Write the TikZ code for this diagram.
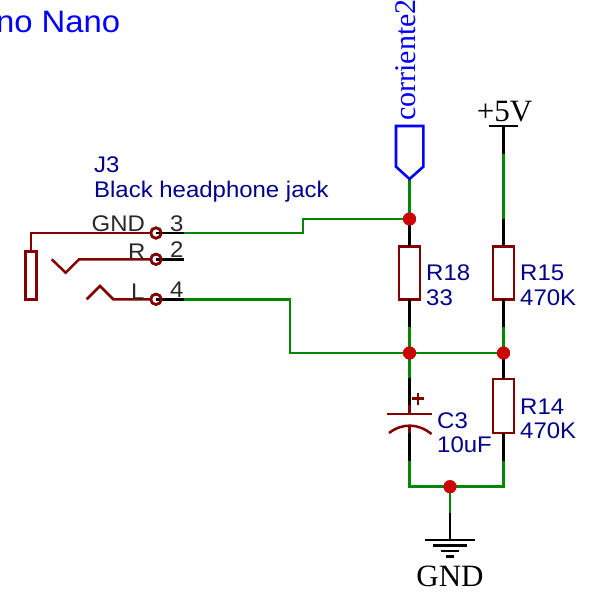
\documentclass[tikz,border=0pt]{standalone}
\usepackage{fontspec}
\setmainfont[FakeStretch=1.06]{Liberation Sans}
\newfontfamily\serifface{Liberation Serif}
\definecolor{wirecol}{RGB}{0,135,0}
\definecolor{symcol}{RGB}{132,0,0}
\definecolor{dotcol}{RGB}{204,0,0}
\definecolor{labcol}{RGB}{0,0,139}
\definecolor{netcol}{RGB}{0,0,255}
\definecolor{pincol}{RGB}{40,40,40}
\tikzset{
  wire/.style={draw=wirecol,line width=2.6pt,line cap=butt},
  lead/.style={draw=black,line width=2.5pt},
  sym/.style={draw=symcol,line width=2.5pt},
  resbox/.style={draw=symcol,line width=2.6pt,fill=white,minimum width=21pt,minimum height=53pt,inner sep=0pt,outer sep=0pt},
  junction/.style={circle,fill=dotcol,minimum size=13pt,inner sep=0pt,outer sep=0pt},
  pinring/.style={circle,draw=symcol,line width=2.5pt,fill=white,minimum size=10.5pt,inner sep=0pt,outer sep=0pt},
  valtxt/.style={text=labcol,anchor=base west,inner sep=0pt,font=\fontsize{22.6}{22.6}\selectfont},
  pintxt/.style={text=pincol,anchor=base west,inner sep=0pt,font=\fontsize{22.6}{22.6}\selectfont},
  sertxt/.style={text=black,inner sep=0pt,font=\fontsize{31}{31}\selectfont\serifface},
}
\begin{document}
\begin{tikzpicture}[x=1pt,y=-1pt]
\useasboundingbox (0,0) rectangle (593,597);
% junctions first, for naming
\node[junction] (d1) at (409.5,219) {};
\node[junction] (d2) at (409.5,353) {};
\node[junction] (d3) at (503.5,353) {};
\node[junction] (d4) at (450,486.7) {};
% named points
\coordinate (p3) at (184,233);
\coordinate (p2) at (184,259.3);
\coordinate (p4) at (184,299.3);
\coordinate (w3a) at (303,233);
\coordinate (w3b) at (303,219);
\coordinate (w4a) at (290,299.3);
\coordinate (w4b) at (290,353);
\coordinate (portTip) at (409.5,179);
\coordinate (r18b) at (409.5,327);
\coordinate (r15t) at (503.5,219);
\coordinate (r15b) at (503.5,327);
\coordinate (r14b) at (503.5,460.7);
\coordinate (c3t) at (409.5,378);
\coordinate (c3b) at (409.5,460.7);
\coordinate (vcc) at (503.5,154);
\coordinate (vccTop) at (503.5,126);
\coordinate (gndT) at (450,512.7);
\coordinate (gndB) at (450,540);
\coordinate (botL) at (409.5,486.7);
\coordinate (botR) at (503.5,486.7);
% wires
\draw[wire] (p3) -- (w3a) -- (w3b) -- (d1.center);
\draw[wire] (p4) -- (w4a) -- (w4b) -- (d2.center);
\draw[wire] (portTip) -- (d1.center);
\draw[wire] (r18b) -- (d2.center);
\draw[wire] (d2.center) -- (c3t);
\draw[wire] (d2.center) -- (d3.center);
\draw[wire] (vcc) -- (r15t);
\draw[wire] (r15b) -- (d3.center);
\draw[wire,line join=miter] (c3b) -- (botL) -- (botR) -- (r14b);
\draw[wire] (d4.center) -- (gndT);
% resistors
\node[resbox] (r18) at (409.5,272.8) {};
\node[resbox] (r15) at (503.5,272.8) {};
\node[resbox,minimum height=54pt] (r14) at (503.5,406) {};
\draw[lead] (d1.center) -- (r18.north);
\draw[lead] (r18.south) -- (r18b);
\draw[lead] (r15t) -- (r15.north);
\draw[lead] (r15.south) -- (r15b);
\draw[lead] (d3.center) -- (r14.north);
\draw[lead] (r14.south) -- (r14b);
% capacitor
\coordinate (capA) at (409.5,414);
\coordinate (capB) at (409.5,426);
\draw[lead] (c3t) -- (409.5,405);
\draw[sym] (409.5,405) -- (capA);
\draw[sym] (387,414) -- (432,414);
\draw[sym] (389,433) .. controls (402,423) and (418,423) .. (431.5,434);
\draw[sym] (capB) -- (409.5,433);
\draw[lead] (409.5,433) -- (c3b);
\draw[symcol,line width=2.5pt] (412,398.7) -- (424,398.7) (417.8,392.7) -- (417.8,404.7);
% +5V
\draw[lead] (vccTop) -- (vcc);
\draw[lead] (489,126) -- (518,126);
% ground
\draw[lead] (gndT) -- (gndB);
\draw[lead] (425,540) -- (475,540);
\draw[lead] (432.7,545.5) -- (467,545.5);
\draw[lead] (440.7,551) -- (459,551);
\draw[lead] (446,556.3) -- (453.5,556.3);
% port
\draw[draw=netcol,line width=2.6pt,line join=miter,fill=white] (396,126) -- (423.3,126) -- (423.3,166.7) -- (portTip) -- (396,166.7) -- cycle;
% jack
\node[pinring] (j3) at (156,233) {};
\node[pinring] (j2) at (156,259.3) {};
\node[pinring] (j4) at (156,299.3) {};
\draw[sym] (31,252) -- (31,233) -- (j3.west);
\draw[sym,fill=white] (25.5,251.5) rectangle (36.5,299.5);
\draw[sym] (51.7,259.3) -- (65.7,272.7) -- (79,259.3) -- (j2.west);
\draw[sym] (86.7,299.3) -- (100,286) -- (113.3,299.3) -- (j4.west);
\draw[lead] (j3.center) -- (p3);
\draw[lead] (j2.center) -- (p2);
\draw[lead] (j4.center) -- (p4);
\draw[sym] (j3) circle (5.25pt) (j2) circle (5.25pt) (j4) circle (5.25pt);
% junction dots on top
\node[junction] at (d1) {};
\node[junction] at (d2) {};
\node[junction] at (d3) {};
\node[junction] at (d4) {};
% texts
\node[text=netcol,anchor=base east,inner sep=0pt,font=\fontsize{31}{31}\selectfont] (title) at (120.5,32.5) {no Nano};
\node[valtxt] (tj3) at (94,172) {J3};
\node[valtxt] (tj3v) at (94,197.7) {Black headphone jack};
\node[pintxt] (tgnd) at (91.5,231) {GND};
\node[pintxt] (tr) at (128,259) {R};
\node[pintxt] (tl) at (131,299) {L};
\node[pintxt] (t3) at (170,231) {3};
\node[pintxt] (t2) at (170,257) {2};
\node[pintxt] (t4) at (170,297.5) {4};
\node[valtxt] (tr18) at (426,280.7) {R18};
\node[valtxt] (tr18v) at (426,305) {33};
\node[valtxt] (tr15) at (520,280.7) {R15};
\node[valtxt] (tr15v) at (520,305) {470K};
\node[valtxt] (tr14) at (520,414) {R14};
\node[valtxt] (tr14v) at (520,438) {470K};
\node[valtxt] (tc3) at (437,428) {C3};
\node[valtxt] (tc3v) at (437,452) {10uF};
\node[sertxt,anchor=base] (tgnd2) at (450,586) {GND};
\node[sertxt,anchor=base] (t5v) at (504.5,121.7) {+5V};
\node[sertxt,text=netcol,anchor=base west,rotate=90,font=\fontsize{30}{30}\selectfont\serifface] (tnet) at (415,121) {corriente2};
\end{tikzpicture}
\end{document}
